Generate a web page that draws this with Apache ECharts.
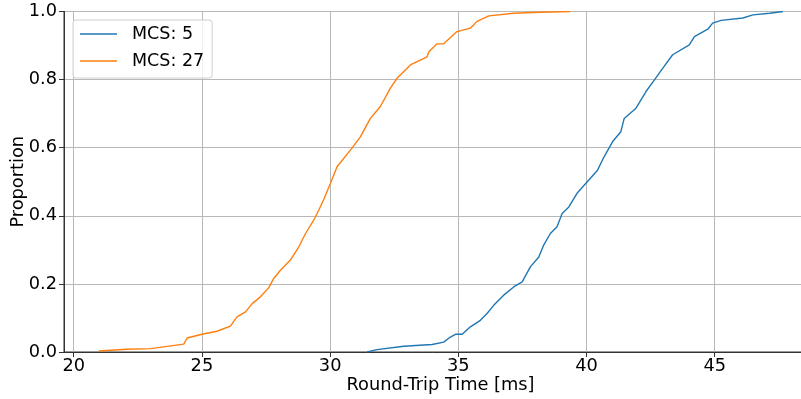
<!DOCTYPE html>
<html>
<head>
<meta charset="utf-8">
<script src="https://cdn.jsdelivr.net/npm/echarts@6/dist/echarts.min.js"></script>
<style>
  html, body { margin: 0; padding: 0; background: #fff; }
  #chart { width: 801px; height: 399px; }
</style>
</head>
<body>
<div id="chart"></div>
<script>
// ECDF samples (x = round-trip time in ms, y = proportion)
const mcs5Time = [31.44, 31.83, 32.87, 33.98, 34.43, 34.69, 34.89, 35.15, 35.47, 35.86, 36.12, 36.38, 36.77, 37.16, 37.49, 37.81, 38.14, 38.33, 38.59, 38.85, 39.05, 39.31, 39.63, 40.09, 40.43, 40.69, 41.02, 41.34, 41.47, 41.93, 42.32, 42.65, 42.97, 43.36, 44.01, 44.21, 44.73, 44.92, 45.25, 46.10, 46.49, 47.15, 47.66];
const mcs5Prop = [0.000, 0.007, 0.017, 0.022, 0.029, 0.044, 0.052, 0.052, 0.074, 0.093, 0.113, 0.137, 0.167, 0.191, 0.206, 0.250, 0.279, 0.314, 0.348, 0.368, 0.407, 0.426, 0.466, 0.505, 0.534, 0.574, 0.618, 0.647, 0.686, 0.716, 0.765, 0.799, 0.833, 0.873, 0.902, 0.926, 0.948, 0.966, 0.974, 0.981, 0.990, 0.995, 1.000];

const mcs27Time = [20.98, 22.08, 23.00, 24.29, 24.42, 25.00, 25.59, 26.11, 26.37, 26.70, 26.96, 27.28, 27.61, 27.80, 28.06, 28.45, 28.78, 29.04, 29.36, 29.56, 29.75, 30.01, 30.27, 30.79, 31.18, 31.57, 31.96, 32.35, 32.61, 33.13, 33.78, 33.85, 34.17, 34.43, 34.95, 35.47, 35.73, 36.19, 37.16, 38.20, 39.37];
const mcs27Prop = [0.003, 0.008, 0.010, 0.023, 0.041, 0.052, 0.061, 0.076, 0.103, 0.118, 0.142, 0.162, 0.189, 0.216, 0.240, 0.270, 0.309, 0.348, 0.387, 0.417, 0.448, 0.495, 0.544, 0.593, 0.632, 0.686, 0.721, 0.775, 0.804, 0.843, 0.867, 0.882, 0.905, 0.905, 0.941, 0.951, 0.971, 0.987, 0.995, 0.998, 1.000];

const xTicks = [20, 25, 30, 35, 40, 45];
const seriesNames = ['MCS: 5', 'MCS: 27'];

const zip = (xs, ys) => xs.map((x, i) => [x, ys[i]]);

const font = "'DejaVu Sans', sans-serif";
const fs = 17.8;
const chart = echarts.init(document.getElementById('chart'), null, { renderer: 'canvas' });

chart.setOption({
  animation: false,
  backgroundColor: '#fff',
  grid: {
    left: 64,
    right: -16,
    top: 11.5,
    bottom: 47,
    outerBoundsMode: 'none',
    containLabel: false,
    show: true,
    borderColor: '#333',
    borderWidth: 1,
    backgroundColor: 'transparent'
  },
  legend: {
    left: 73,
    top: 20,
    orient: 'vertical',
    data: seriesNames,
    icon: 'rect',
    itemWidth: 37,
    itemHeight: 1.5,
    itemGap: 9,
    padding: [5, 8, 8, 7],
    borderColor: '#d0d0d0',
    borderWidth: 1,
    borderRadius: 3,
    backgroundColor: 'rgba(255,255,255,0.8)',
    textStyle: {
      fontFamily: font,
      fontSize: 17.5,
      color: '#000',
      padding: [0, 0, 0, 10]
    }
  },
  xAxis: {
    type: 'value',
    min: 19.62,
    max: 48.99,
    name: 'Round-Trip Time [ms]',
    nameLocation: 'middle',
    nameGap: 24,
    nameMoveOverlap: false,
    nameTextStyle: { fontFamily: font, fontSize: fs, color: '#000' },
    axisLine: { show: true, lineStyle: { color: '#333', width: 1 } },
    axisTick: { show: true, length: 5, customValues: xTicks, lineStyle: { color: '#333' } },
    axisLabel: {
      customValues: xTicks,
      margin: 5,
      fontFamily: font,
      fontSize: fs,
      color: '#000'
    },
    splitLine: { show: true, lineStyle: { color: '#b8b8b8', width: 1 } }
  },
  yAxis: {
    type: 'value',
    min: 0,
    max: 1,
    interval: 0.2,
    name: 'Proportion',
    nameLocation: 'middle',
    nameGap: 37,
    nameMoveOverlap: false,
    nameTextStyle: { fontFamily: font, fontSize: fs, color: '#000' },
    axisLine: { show: true, lineStyle: { color: '#333', width: 1 } },
    axisTick: { show: true, length: 5, lineStyle: { color: '#333' } },
    axisLabel: {
      margin: 7,
      fontFamily: font,
      fontSize: fs,
      color: '#000',
      formatter: v => v.toFixed(1)
    },
    splitLine: { show: true, lineStyle: { color: '#b8b8b8', width: 1 } }
  },
  series: [
    {
      name: seriesNames[0],
      type: 'line',
      data: zip(mcs5Time, mcs5Prop),
      showSymbol: false,
      lineStyle: { color: '#1f77b4', width: 1.4 },
      itemStyle: { color: '#1f77b4' }
    },
    {
      name: seriesNames[1],
      type: 'line',
      data: zip(mcs27Time, mcs27Prop),
      showSymbol: false,
      lineStyle: { color: '#ff7f0e', width: 1.4 },
      itemStyle: { color: '#ff7f0e' }
    }
  ]
});
</script>
</body>
</html>
